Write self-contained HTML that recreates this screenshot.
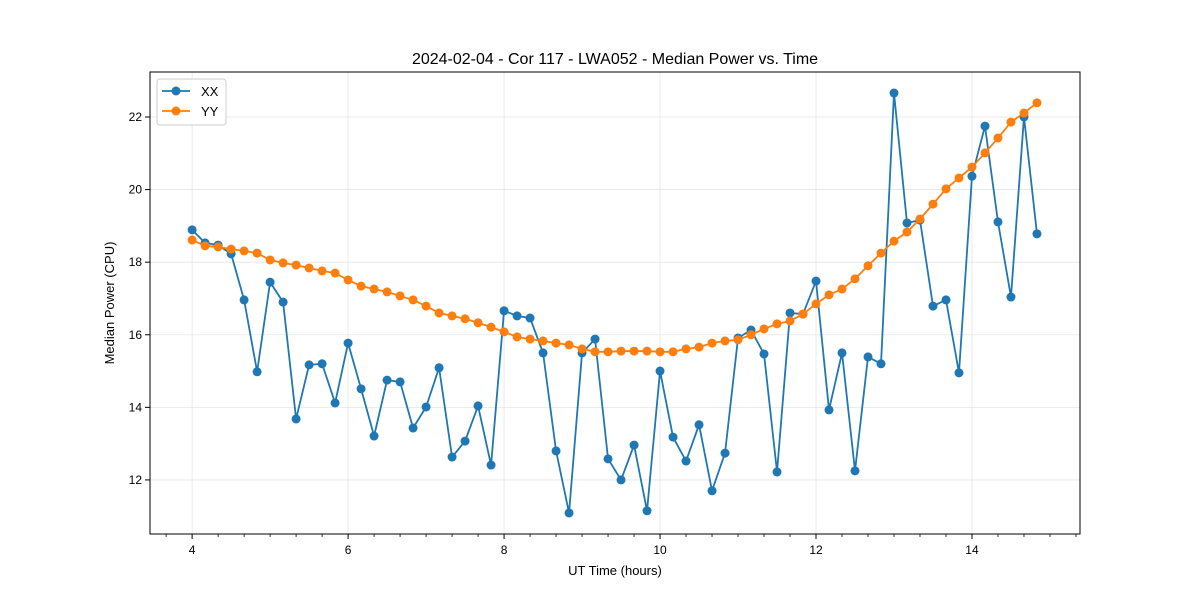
<!DOCTYPE html>
<html><head><meta charset="utf-8"><style>
body{margin:0;background:#fff}
svg text{font-family:"Liberation Sans","DejaVu Sans",sans-serif;fill:#000}
</style></head><body>
<svg id="chart" width="1200" height="600" xmlns="http://www.w3.org/2000/svg">
<rect width="1200" height="600" fill="#fff"/>
<g id="grid"></g><g id="axes"></g><g id="series"></g>
<text x="615" y="64" text-anchor="middle" font-size="16">2024-02-04 - Cor 117 - LWA052 - Median Power vs. Time</text>
<text x="615" y="575" text-anchor="middle" font-size="13">UT Time (hours)</text>
<text transform="translate(114,303) rotate(-90)" text-anchor="middle" font-size="13">Median Power (CPU)</text>
<g>
<rect x="157" y="79" width="69" height="46" rx="3" fill="#fff" stroke="#ccc"/>
<line x1="162" y1="91" x2="190" y2="91" stroke="#1f77b4" stroke-width="1.8"/><circle cx="176" cy="91" r="4.5" fill="#1f77b4"/>
<text x="201" y="96" font-size="13">XX</text>
<line x1="162" y1="111" x2="190" y2="111" stroke="#ff7f0e" stroke-width="1.8"/><circle cx="176" cy="111" r="4.5" fill="#ff7f0e"/>
<text x="201" y="116" font-size="13">YY</text>
</g>
</svg>
<script>
const xx = [18.89,18.53,18.47,18.23,16.96,14.98,17.45,16.90,13.68,15.17,15.20,14.12,15.77,14.51,13.21,14.75,14.70,13.43,14.01,15.09,12.63,13.07,14.04,12.41,16.66,16.52,16.46,15.50,12.80,11.09,15.50,15.88,12.58,12.00,12.96,11.15,15.00,13.18,12.52,13.52,11.70,12.74,15.91,16.13,15.47,12.22,16.60,16.57,17.48,13.93,15.50,12.25,15.39,15.20,22.66,19.08,19.16,16.79,16.96,14.95,20.37,21.75,19.11,17.04,22.0,18.78];
const yy = [18.61,18.45,18.42,18.36,18.31,18.25,18.06,17.98,17.92,17.84,17.76,17.70,17.51,17.34,17.26,17.18,17.07,16.96,16.79,16.60,16.52,16.44,16.33,16.21,16.08,15.94,15.88,15.83,15.77,15.72,15.61,15.53,15.53,15.55,15.55,15.55,15.53,15.53,15.61,15.66,15.77,15.83,15.86,16.0,16.16,16.30,16.38,16.57,16.85,17.10,17.26,17.54,17.90,18.25,18.58,18.83,19.19,19.60,20.02,20.32,20.62,21.01,21.42,21.86,22.11,22.39];
const startHour = 4, stepHour = 1/6;
const xTicks = [4,6,8,10,12,14];
const yTicks = [12,14,16,18,20,22];
const L=150,R=1080,T=72,B=534;
const X0=3.46,X1=15.385,Y0=10.51,Y1=23.24;
const sx=v=>L+(v-X0)/(X1-X0)*(R-L);
const sy=v=>B-(v-Y0)/(Y1-Y0)*(B-T);
const NS="http://www.w3.org/2000/svg";
function mk(tag,attrs,parent){const e=document.createElementNS(NS,tag);for(const k in attrs)e.setAttribute(k,attrs[k]);parent.appendChild(e);return e;}
const grid=document.getElementById('grid'),axes=document.getElementById('axes'),ser=document.getElementById('series');
xTicks.forEach(t=>{
 const g=mk('line',{x1:sx(t),x2:sx(t),y1:T,y2:B,stroke:'#e5e5e5','stroke-width':0.8},grid);
 
 
 mk('line',{x1:sx(t),x2:sx(t),y1:B,y2:B+5,stroke:'#000'},axes);
 const tx=mk('text',{x:sx(t),y:B+20,'text-anchor':'middle','font-size':12},axes);tx.textContent=t;
 
 
});
for(let m=3+2/3;m<15.4;m+=1/3){if(m<X0)continue;const r=Math.round(m*3)/3;if(Math.abs(r-Math.round(r))<0.01&&Math.round(r)%2===0)continue;mk('line',{x1:sx(m),x2:sx(m),y1:B,y2:B+3,stroke:'#000','stroke-width':0.8},axes);}
yTicks.forEach(t=>{
 const g=mk('line',{x1:L,x2:R,y1:sy(t),y2:sy(t),stroke:'#e5e5e5','stroke-width':0.8},grid);
 
 
 mk('line',{x1:L-5,x2:L,y1:sy(t),y2:sy(t),stroke:'#000'},axes);
 const tx=mk('text',{x:L-8,y:sy(t)+4,'text-anchor':'end','font-size':12},axes);tx.textContent=t;
 
 
});
const frame=mk('rect',{x:L,y:T,width:R-L,height:B-T,fill:'none',stroke:'#000','stroke-width':1},axes);


function draw(vals,color,name){
 const pts=vals.map((v,i)=>[sx(startHour+i*stepHour),sy(v)]);
 const p=mk('polyline',{points:pts.map(p=>p.join(',')).join(' '),fill:'none',stroke:color,'stroke-width':1.8},ser);
 
 
 pts.forEach(q=>{const c=mk('circle',{cx:q[0],cy:q[1],r:4.5,fill:color},ser);
  
  });
}
draw(xx,'#1f77b4','xx');
draw(yy,'#ff7f0e','yy');
</script>
</body></html>
